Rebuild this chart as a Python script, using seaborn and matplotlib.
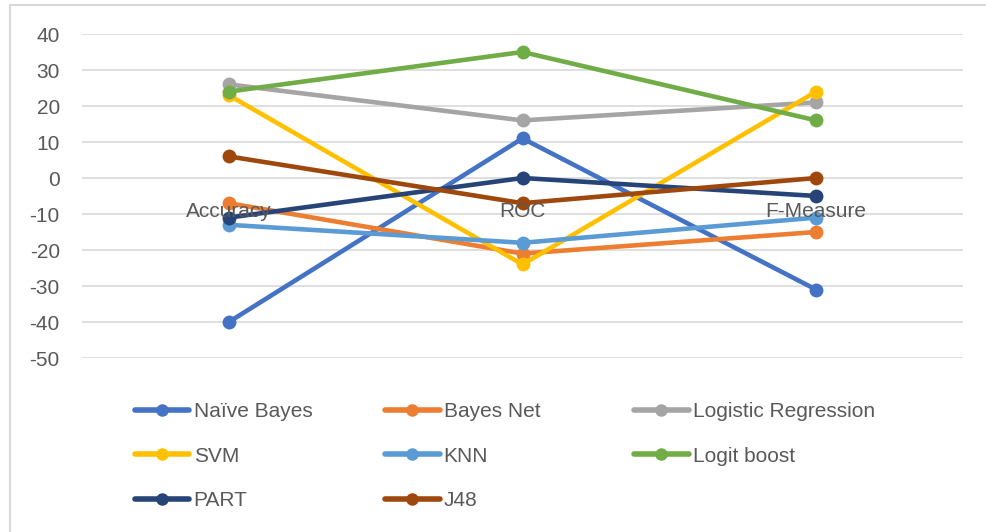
import matplotlib.pyplot as plt
import seaborn as sns
import pandas as pd
from matplotlib.lines import Line2D

# data
metrics = ['Accuracy', 'ROC', 'F-Measure']
models = ['Naïve Bayes', 'Bayes Net', 'Logistic Regression', 'SVM', 'KNN',
          'Logit boost', 'PART', 'J48']
naive_bayes = [-40, 11, -31]
bayes_net = [-7, -21, -15]
logistic_regression = [26, 16, 21]
svm = [23, -24, 24]
knn = [-13, -18, -11]
logit_boost = [24, 35, 16]
part = [-11, 0, -5]
j48 = [6, -7, 0]
colors = ['#4472C4', '#ED7D31', '#A5A5A5', '#FFC000', '#5B9BD5',
          '#70AD47', '#264478', '#9E480E']
yticks = list(range(-50, 41, 10))

series = [naive_bayes, bayes_net, logistic_regression, svm, knn,
          logit_boost, part, j48]
rows = []
for name, vals in zip(models, series):
    for i, v in enumerate(vals):
        rows.append({'model': name, 'idx': i, 'value': v})
df = pd.DataFrame(rows)

sns.set_style("white")
plt.rcParams['font.family'] = ['Liberation Sans', 'DejaVu Sans']
plt.rcParams['axes.unicode_minus'] = False
txt = '#595959'
fs = 15

fig = plt.figure(figsize=(9.86, 5.32), dpi=100)
ax = fig.add_axes([82 / 986, 1 - 358 / 532, 881 / 986, 324 / 532])

sns.lineplot(data=df, x='idx', y='value', hue='model', hue_order=models,
             palette=colors, marker='o', markersize=10, markeredgewidth=0,
             linewidth=3.3, ax=ax, legend=False, zorder=3)

ax.set_xlim(-0.5, 2.5)
ax.set_ylim(-50, 40)
ax.set_yticks(yticks)
ax.set_xticks(range(len(metrics)))
ax.set_xticklabels(metrics)
ax.grid(axis='y', color='#D9D9D9', linewidth=1.2)
ax.grid(axis='x', visible=False)
for s in ax.spines.values():
    s.set_visible(False)
# category labels sit on the zero line, drawn over the series like Excel
ax.spines['bottom'].set_position(('data', 0))
ax.xaxis.set_zorder(5)
ax.tick_params(axis='x', length=0, pad=17, labelsize=fs, labelcolor=txt)
ax.tick_params(axis='y', length=0, pad=16, labelsize=fs, labelcolor=txt)
ax.set_xlabel('')
ax.set_ylabel('')

# legend laid out row-major in three columns like the original
cols = [[0, 3, 6], [1, 4, 7], [2, 5]]
xs = [127, 377, 626]
for xpos, idxs in zip(xs, cols):
    handles = [Line2D([], [], color=colors[k], linewidth=4, marker='o',
                      markersize=9, markeredgewidth=0) for k in idxs]
    fig.legend(handles, [models[k] for k in idxs], loc='upper left',
               bbox_to_anchor=(xpos / 986, 1 - 394 / 532), frameon=False,
               fontsize=fs, labelcolor=txt, handlelength=2.6,
               handletextpad=0.2, labelspacing=1.22, borderaxespad=0)

# outer chart border (top and left visible)
fig.add_artist(Line2D([10 / 986, 1], [1 - 5 / 532, 1 - 5 / 532],
                      color='#D9D9D9', linewidth=1.5, transform=fig.transFigure))
fig.add_artist(Line2D([10 / 986, 10 / 986], [0, 1 - 5 / 532],
                      color='#D9D9D9', linewidth=1.5, transform=fig.transFigure))

fig.savefig('out.png', dpi=100)
